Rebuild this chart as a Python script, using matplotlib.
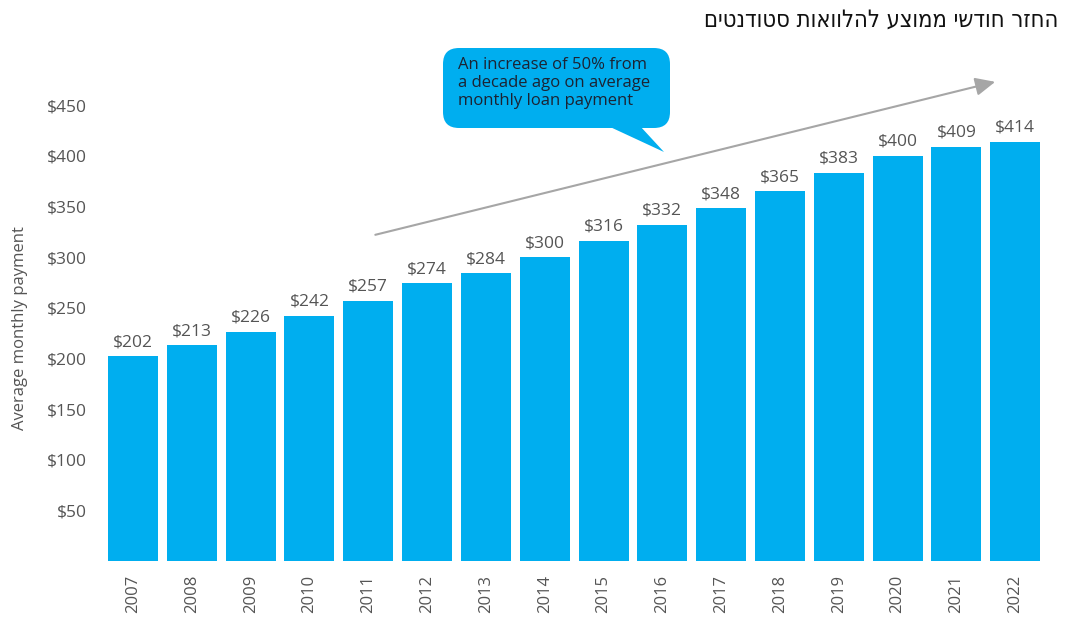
import matplotlib
matplotlib.use("Agg")
import matplotlib.pyplot as plt
from matplotlib.patches import FancyBboxPatch, Polygon

# average monthly student loan payment by year
years = ["2007", "2008", "2009", "2010", "2011", "2012", "2013", "2014",
         "2015", "2016", "2017", "2018", "2019", "2020", "2021", "2022"]
payments = [202, 213, 226, 242, 257, 274, 284, 300,
            316, 332, 348, 365, 383, 400, 409, 414]
yticks = [50, 100, 150, 200, 250, 300, 350, 400, 450]

title = "החזר חודשי ממוצע להלוואות סטודנטים"
note = "An increase of 50% from\na decade ago on average\nmonthly loan payment"

BLUE = "#00AEEF"
GREY = "#555555"
plt.rcParams["font.family"] = ["Open Sans", "DejaVu Sans"]

W, H = 1067, 626
fig = plt.figure(figsize=(W / 100, H / 100), dpi=100)
ax = fig.add_axes([103.6 / W, (H - 561) / H, 941 / W, 466 / H])

x = range(len(years))
ax.bar(x, payments, width=0.85, color=BLUE)
for xi, v in zip(x, payments):
    ax.text(xi, v + 6, f"${v}", ha="center", va="bottom", fontsize=12.5, color=GREY)

ax.set_xlim(-0.5, len(years) - 0.5)
ax.set_ylim(0, 460)
ax.set_yticks(yticks)
ax.set_yticklabels([f"${t}" for t in yticks], fontsize=12.5, color=GREY)
ax.set_xticks(list(x))
ax.set_xticklabels(years, rotation=90, fontsize=12, color=GREY)
ax.tick_params(length=0)
ax.tick_params(axis="y", pad=12)
ax.tick_params(axis="x", pad=10)
for s in ax.spines.values():
    s.set_visible(False)
ax.set_ylabel("Average monthly payment", fontsize=12, color=GREY)
ax.yaxis.set_label_coords(-76 / 941, 0.5)

# growth arrow
ax.annotate("", xy=(14.66, 473), xytext=(4.12, 322), annotation_clip=False,
            arrowprops=dict(arrowstyle="-|>,head_length=1.2,head_width=0.55",
                            color="#a6a6a6", lw=1.5, shrinkA=0, shrinkB=0))

# speech bubble
def px(xp, yp):
    return (xp / W, 1 - yp / H)

bx0, by0 = px(443, 128)
bx1, by1 = px(670, 48)
bubble = FancyBboxPatch((bx0, by0), bx1 - bx0, by1 - by0,
                        boxstyle="round,pad=0,rounding_size=0.015",
                        transform=fig.transFigure, facecolor=BLUE,
                        edgecolor="none", mutation_aspect=W / H)
fig.patches.append(bubble)
tail = Polygon([px(608, 126), px(640, 126), px(664, 152)], closed=True,
               transform=fig.transFigure, facecolor=BLUE, edgecolor="none")
fig.patches.append(tail)
fig.text(458 / W, 1 - 57 / H, note, ha="left", va="top", fontsize=12,
         color="#1c2333", linespacing=1.18)

# RTL title: reverse characters for left-to-right rendering
fig.text(1058 / W, 1 - 20 / H, title[::-1], ha="right", va="center",
         fontsize=17, color="#111111", family=["DejaVu Sans"],
         fontstretch="condensed")

fig.savefig("out.png", dpi=100)
